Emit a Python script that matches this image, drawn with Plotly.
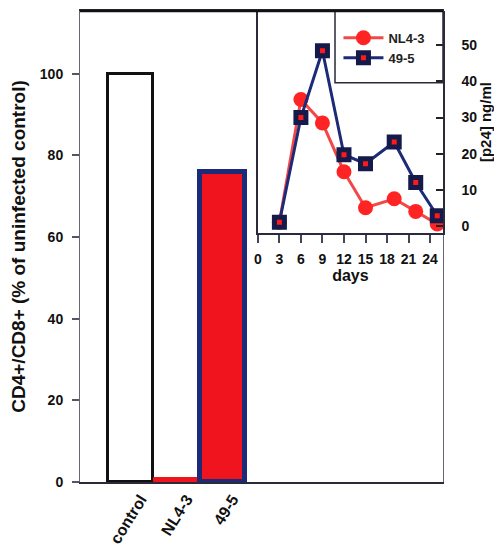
import plotly.graph_objects as go

# Main bar chart data
categories = ["control", "NL4-3", "49-5"]
cd4_cd8_pct = [100, 1, 76]

# Inset time-course data
days_nl43 = [3, 6, 9, 12, 15, 19, 22, 25]
p24_nl43 = [1, 35, 28.5, 15, 5, 7.5, 4, 0.5]
days_495 = [3, 6, 9, 12, 15, 19, 22, 25]
p24_495 = [1, 30, 48.5, 19.7, 17.2, 23.2, 12, 2.8]

inset_xticks = [0, 3, 6, 9, 12, 15, 18, 21, 24]
main_yticks = [0, 20, 40, 60, 80, 100]
inset_yticks = [0, 10, 20, 30, 40, 50]

FONT = "Liberation Sans, Arial, sans-serif"
RED = "#f0141e"
NAVY = "#1c2a78"
DARK = "#2a2a3a"

fig = go.Figure()

bar_fill = ["#ffffff", RED, RED]
bar_line = ["#111111", RED, NAVY]
bar_lw = [3, 1, 5]
xpos = list(range(len(categories)))
fig.add_trace(go.Bar(
    x=xpos, y=cd4_cd8_pct, width=[0.98, 0.98, 0.98],
    marker=dict(color=bar_fill, line=dict(color=bar_line, width=bar_lw)),
    showlegend=False, xaxis="x", yaxis="y",
))

fig.add_trace(go.Scatter(
    x=days_nl43, y=p24_nl43, name="NL4-3", mode="lines+markers",
    line=dict(color="#f24848", width=3),
    marker=dict(symbol="circle", size=15, color="#ff2424"),
    xaxis="x2", yaxis="y2",
))
fig.add_trace(go.Scatter(
    x=days_495, y=p24_495, name="49-5", mode="lines+markers",
    line=dict(color=NAVY, width=3),
    marker=dict(symbol="square", size=10, color="#ff1a1a",
                line=dict(color="#141a4a", width=5)),
    xaxis="x2", yaxis="y2",
))

fig.update_layout(
    width=502, height=553,
    margin=dict(l=72, r=67, t=1, b=79),
    paper_bgcolor="white", plot_bgcolor="white",
    bargap=0,
    font=dict(family=FONT, size=14, color="#111111", weight="bold"),
    xaxis=dict(
        domain=[0, 1], range=[-1.1, 6.8],
        tickvals=[v + 0.22 for v in xpos], ticktext=categories,
        tickangle=-58, ticks="", showgrid=False, zeroline=False,
        showline=True, linecolor=DARK, linewidth=1.5, mirror=True,
        tickfont=dict(family=FONT, size=16, weight="bold"),
    ),
    yaxis=dict(
        domain=[0, 1], range=[0, 115.4],
        tickvals=main_yticks, ticks="outside", ticklen=7, tickwidth=1.5,
        tickcolor="#556", showgrid=False, zeroline=False,
        showline=True, linecolor="#667", linewidth=1, mirror=True,
        ticklabelstandoff=6,
        tickfont=dict(family=FONT, size=14, weight="bold"),
        title=dict(text="CD4+/CD8+ (% of uninfected control)",
                   font=dict(family=FONT, size=19, weight="bold"),
                   standoff=10),
    ),
    xaxis2=dict(
        domain=[0.490, 1.0], range=[0, 25.8], anchor="y2",
        tickvals=inset_xticks, ticks="outside", ticklen=8, tickwidth=1.5,
        tickcolor="#445", showgrid=False, zeroline=False,
        showline=True, linecolor=DARK, linewidth=1.5,
        ticklabelstandoff=4,
        tickfont=dict(family=FONT, size=14, weight="bold"),
        title=dict(text="days", font=dict(family=FONT, size=16, weight="bold"),
                   standoff=2),
    ),
    yaxis2=dict(
        domain=[0.5285, 1.0], range=[-2, 59.5], anchor="x2", side="right",
        tickvals=inset_yticks, ticks="inside", ticklen=7, tickwidth=1.5,
        tickcolor="#222", showgrid=False, zeroline=False,
        showline=True, linecolor=DARK, linewidth=1.5, mirror=True,
        ticklabelstandoff=14,
        tickfont=dict(family=FONT, size=14, weight="bold"),
        title=dict(text="[p24] ng/ml", font=dict(family=FONT, size=15, weight="bold"),
                   standoff=3),
    ),
    legend=dict(
        x=0.712, y=0.975, xanchor="left", yanchor="top",
        bgcolor="rgba(0,0,0,0)", borderwidth=0,
        font=dict(family=FONT, size=13, weight="bold", color="#222"),
        itemwidth=40, tracegroupgap=0,
    ),
    shapes=[
        dict(type="rect", xref="paper", yref="paper",
             x0=0.7025, x1=1.0, y0=0.8478, y1=1.0,
             line=dict(color=DARK, width=1.5), layer="above"),
        dict(type="line", xref="paper", yref="paper",
             x0=0, x1=1, y0=1, y1=1,
             line=dict(color="#111111", width=2.5), layer="above"),
    ],
)

fig.write_html("out.html")
